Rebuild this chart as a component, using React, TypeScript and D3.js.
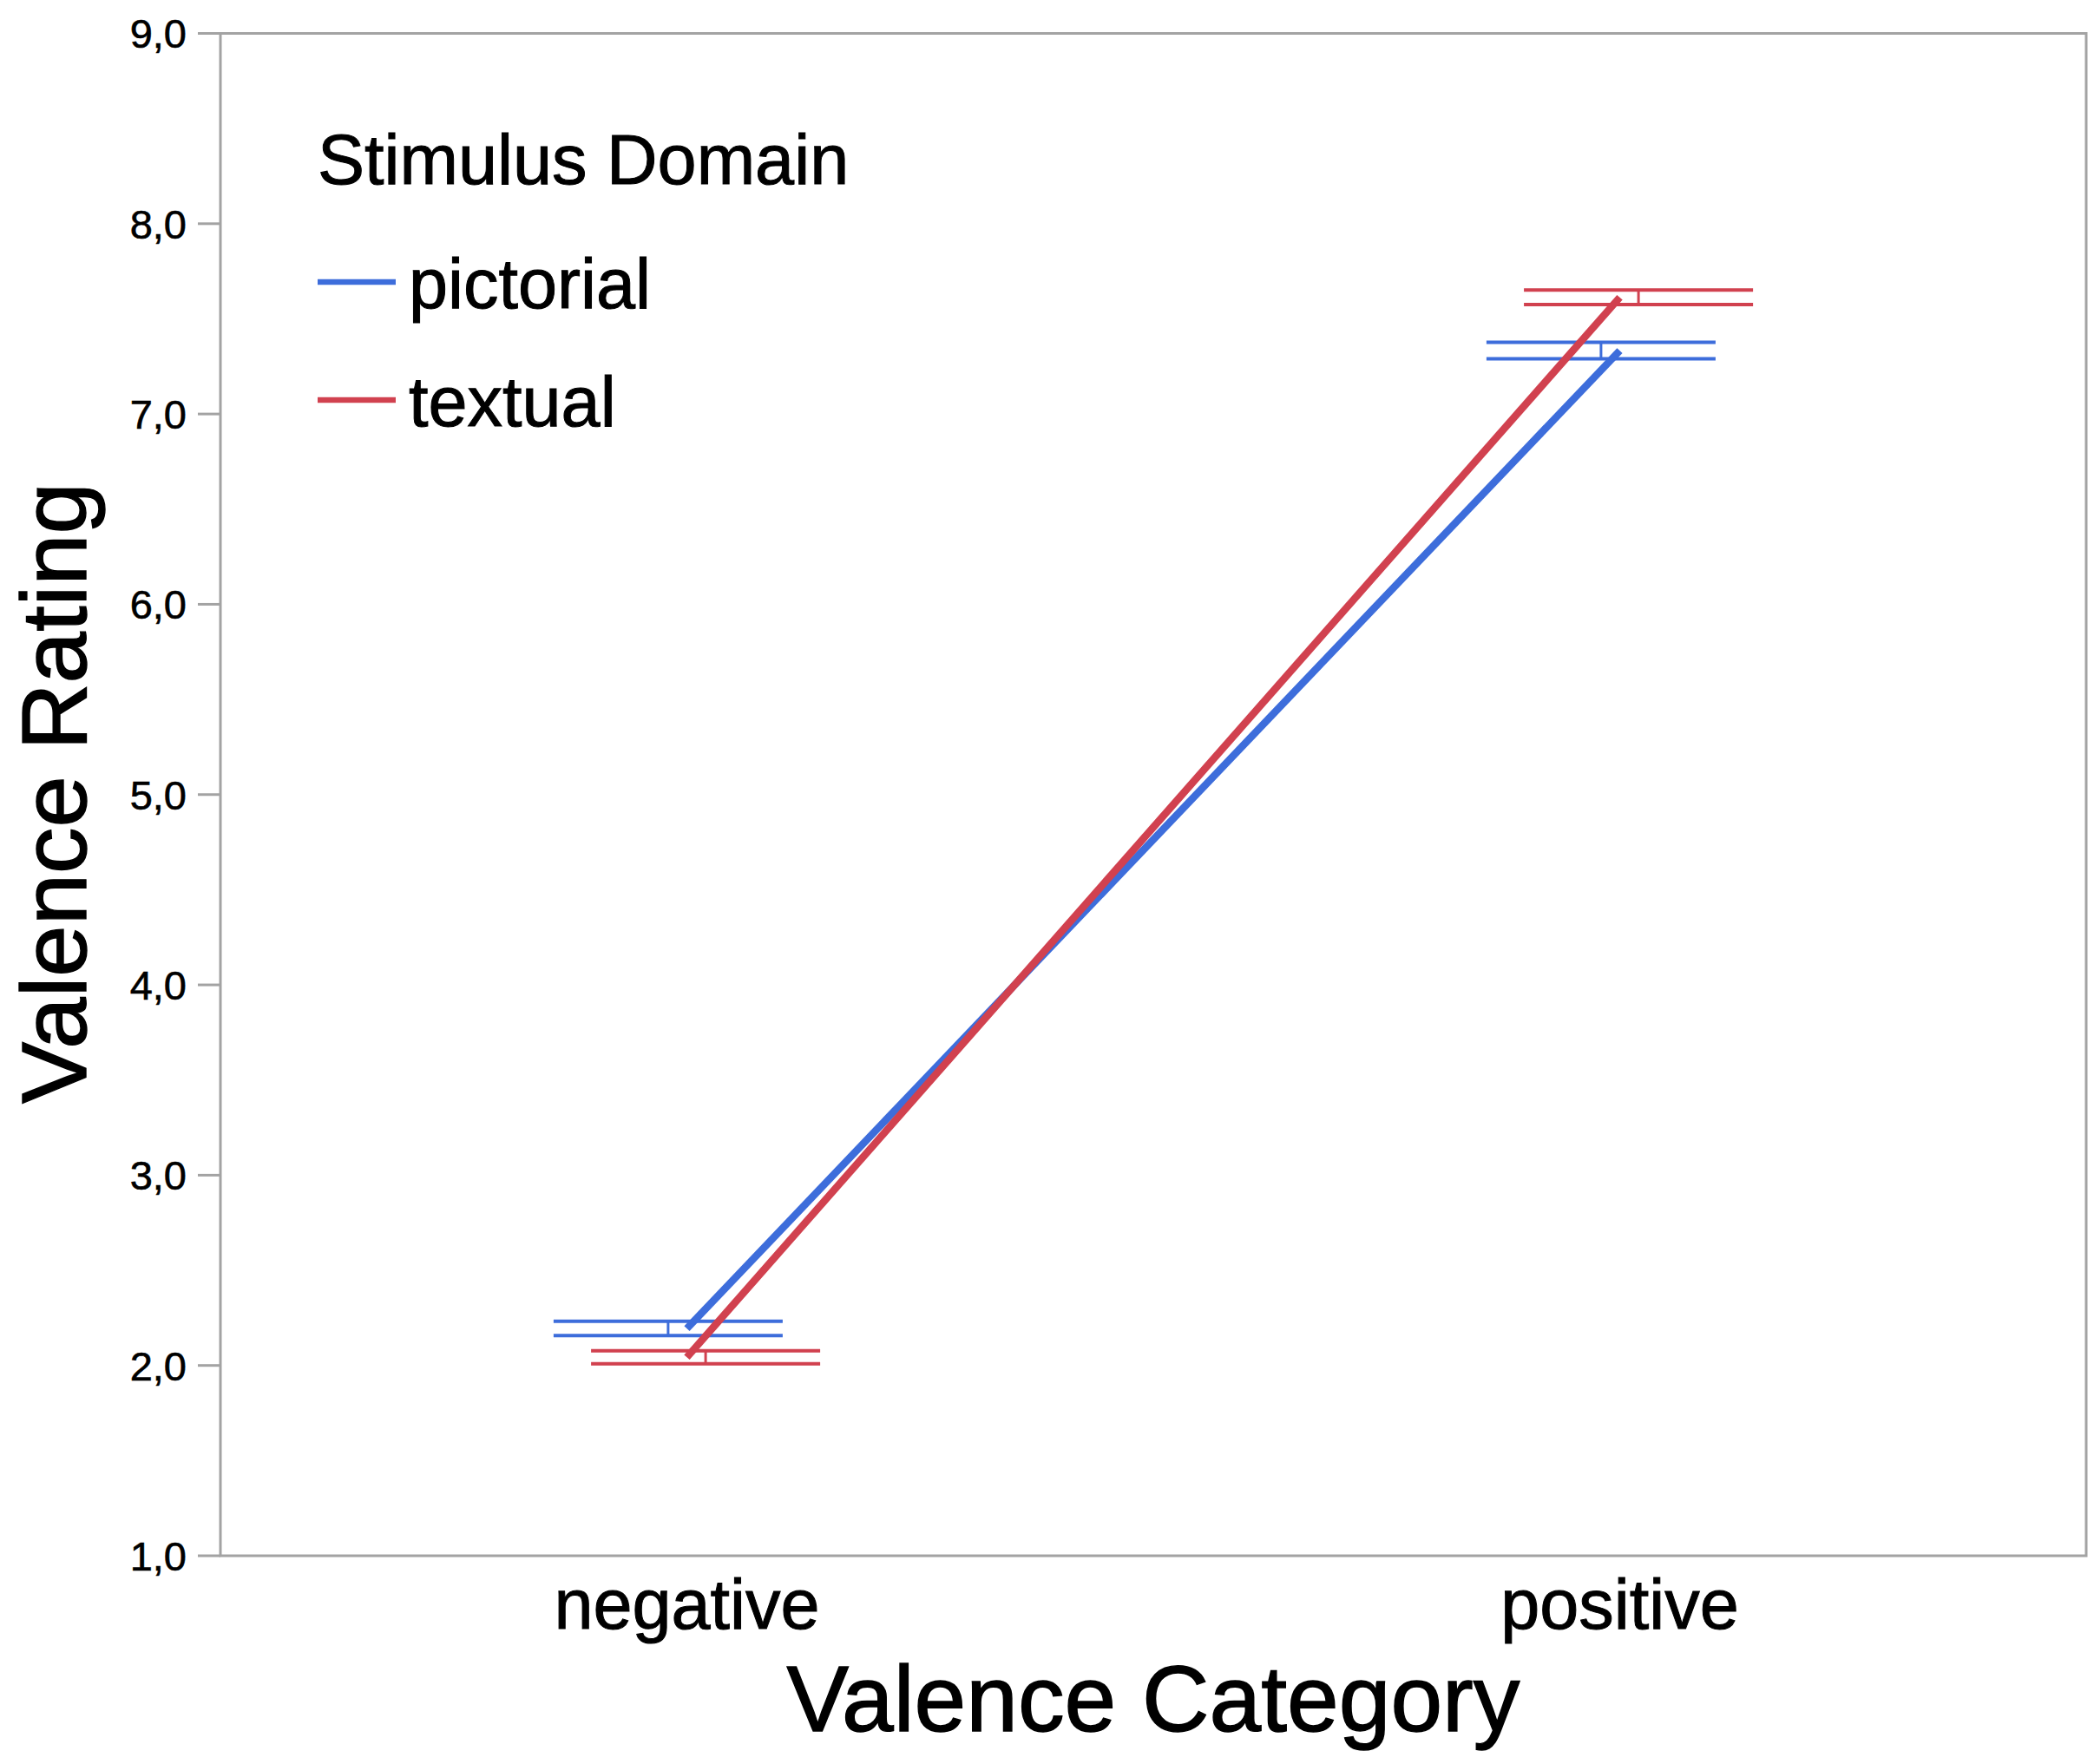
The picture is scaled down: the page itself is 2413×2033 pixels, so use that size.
import React, { useEffect, useRef, FC } from "react";
import * as d3 from "d3";

// data
const categories = ["negative", "positive"];
const series = ["pictorial", "textual"];
const seriesColors = ["#3d6ddb", "#d1414f"];
const pictorialMean = [2.194, 7.333];
const pictorialLow = [2.157, 7.29];
const pictorialHigh = [2.232, 7.377];
const textualMean = [2.043, 7.613];
const textualLow = [2.009, 7.575];
const textualHigh = [2.077, 7.651];
const yTicks = [1, 2, 3, 4, 5, 6, 7, 8, 9];

const W = 2413;
const H = 2033;
const margin = { left: 254, right: 9, top: 38.5, bottom: 240 };
const FONT = "'Liberation Sans', Arial, Helvetica, sans-serif";

const App: FC = () => {
  const ref = useRef<SVGSVGElement>(null);

  useEffect(() => {
    document.body.style.margin = "0";
    const svg = d3.select(ref.current);
    svg.selectAll("*").remove();

    const x0 = margin.left;
    const x1 = W - margin.right;
    const y0 = margin.top;
    const y1 = H - margin.bottom;

    const x = d3.scaleBand().domain(categories).range([x0, x1]).padding(0);
    const y = d3.scaleLinear().domain([1, 9]).range([y1, y0]);
    // small sideways dodge for the error bars
    const dodge = d3.scalePoint().domain(series).range([-21.6, 21.6]);
    const cx = (c: string) => (x(c) as number) + x.bandwidth() / 2;
    const capHalf = x.bandwidth() * 0.1228;

    const data = [
      { name: series[0], color: seriesColors[0], mean: pictorialMean, lo: pictorialLow, hi: pictorialHigh },
      { name: series[1], color: seriesColors[1], mean: textualMean, lo: textualLow, hi: textualHigh },
    ];

    const frameColor = "#a3a3a3";

    // frame
    const g = svg.append("g");
    g.append("rect")
      .attr("x", x0)
      .attr("y", y0)
      .attr("width", x1 - x0)
      .attr("height", y1 - y0)
      .attr("fill", "none")
      .attr("stroke", frameColor)
      .attr("stroke-width", 3);

    // y ticks + labels
    const ticks = g.selectAll(".tick").data(yTicks).enter().append("g");
    ticks
      .append("line")
      .attr("x1", x0 - 26)
      .attr("x2", x0)
      .attr("y1", (d: number) => y(d))
      .attr("y2", (d: number) => y(d))
      .attr("stroke", frameColor)
      .attr("stroke-width", 3);
    ticks
      .append("text")
      .attr("x", x0 - 39)
      .attr("y", (d: number) => y(d))
      .attr("dy", "0.36em")
      .attr("text-anchor", "end")
      .attr("font-family", FONT)
      .attr("font-size", 47)
      .attr("fill", "#000")
      .attr("stroke", "#000")
      .attr("stroke-width", 0.6)
      .text((d: number) => d3.format(".1f")(d).replace(".", ","));

    // category labels
    g.selectAll(".cat")
      .data(categories)
      .enter()
      .append("text")
      .attr("x", (d: string) => cx(d))
      .attr("y", 1877)
      .attr("text-anchor", "middle")
      .attr("font-family", FONT)
      .attr("font-size", 81)
      .attr("stroke", "#000")
      .attr("stroke-width", 1)
      .text((d: string) => d);

    // axis titles
    g.append("text")
      .attr("x", (x0 + x1) / 2)
      .attr("y", 1995)
      .attr("text-anchor", "middle")
      .attr("font-family", FONT)
      .attr("font-size", 108)
      .attr("textLength", 845)
      .attr("lengthAdjust", "spacingAndGlyphs")
      .attr("stroke", "#000")
      .attr("stroke-width", 1.4)
      .text("Valence Category");

    g.append("text")
      .attr("transform", `translate(99,914) rotate(-90)`)
      .attr("text-anchor", "middle")
      .attr("font-family", FONT)
      .attr("font-size", 106)
      .attr("textLength", 716)
      .attr("lengthAdjust", "spacingAndGlyphs")
      .attr("stroke", "#000")
      .attr("stroke-width", 1.4)
      .text("Valence Rating");

    // error bars
    data.forEach((s) => {
      const eb = g.append("g").attr("stroke", s.color).attr("fill", "none");
      categories.forEach((c, i) => {
        const ex = cx(c) + (dodge(s.name) as number);
        [s.lo[i], s.hi[i]].forEach((v) => {
          eb.append("line")
            .attr("x1", ex - capHalf)
            .attr("x2", ex + capHalf)
            .attr("y1", y(v))
            .attr("y2", y(v))
            .attr("stroke-width", 4);
        });
        eb.append("line")
          .attr("x1", ex)
          .attr("x2", ex)
          .attr("y1", y(s.lo[i]))
          .attr("y2", y(s.hi[i]))
          .attr("stroke-width", 3);
      });
    });

    // mean lines
    const line = d3
      .line<number>()
      .x((_d, i) => cx(categories[i]))
      .y((d) => y(d));
    data.forEach((s) => {
      g.append("path")
        .attr("d", line(s.mean) as string)
        .attr("fill", "none")
        .attr("stroke", s.color)
        .attr("stroke-width", 8.5);
    });

    // legend
    const lg = g.append("g");
    lg.append("text")
      .attr("x", 366)
      .attr("y", 212)
      .attr("font-family", FONT)
      .attr("font-size", 81)
      .attr("stroke", "#000")
      .attr("stroke-width", 1)
      .text("Stimulus Domain");
    const items = lg
      .selectAll(".item")
      .data(data)
      .enter()
      .append("g")
      .attr("transform", (_d: any, i: number) => `translate(0,${i * 136})`);
    items
      .append("line")
      .attr("x1", 366)
      .attr("x2", 456)
      .attr("y1", 325)
      .attr("y2", 325)
      .attr("stroke", (d: any) => d.color)
      .attr("stroke-width", 6.5);
    items
      .append("text")
      .attr("x", 471)
      .attr("y", 355)
      .attr("font-family", FONT)
      .attr("font-size", 81)
      .attr("stroke", "#000")
      .attr("stroke-width", 1)
      .text((d: any) => d.name);
  }, []);

  return <svg ref={ref} width={W} height={H} style={{ display: "block", background: "#fff" }} />;
};

export default App;
